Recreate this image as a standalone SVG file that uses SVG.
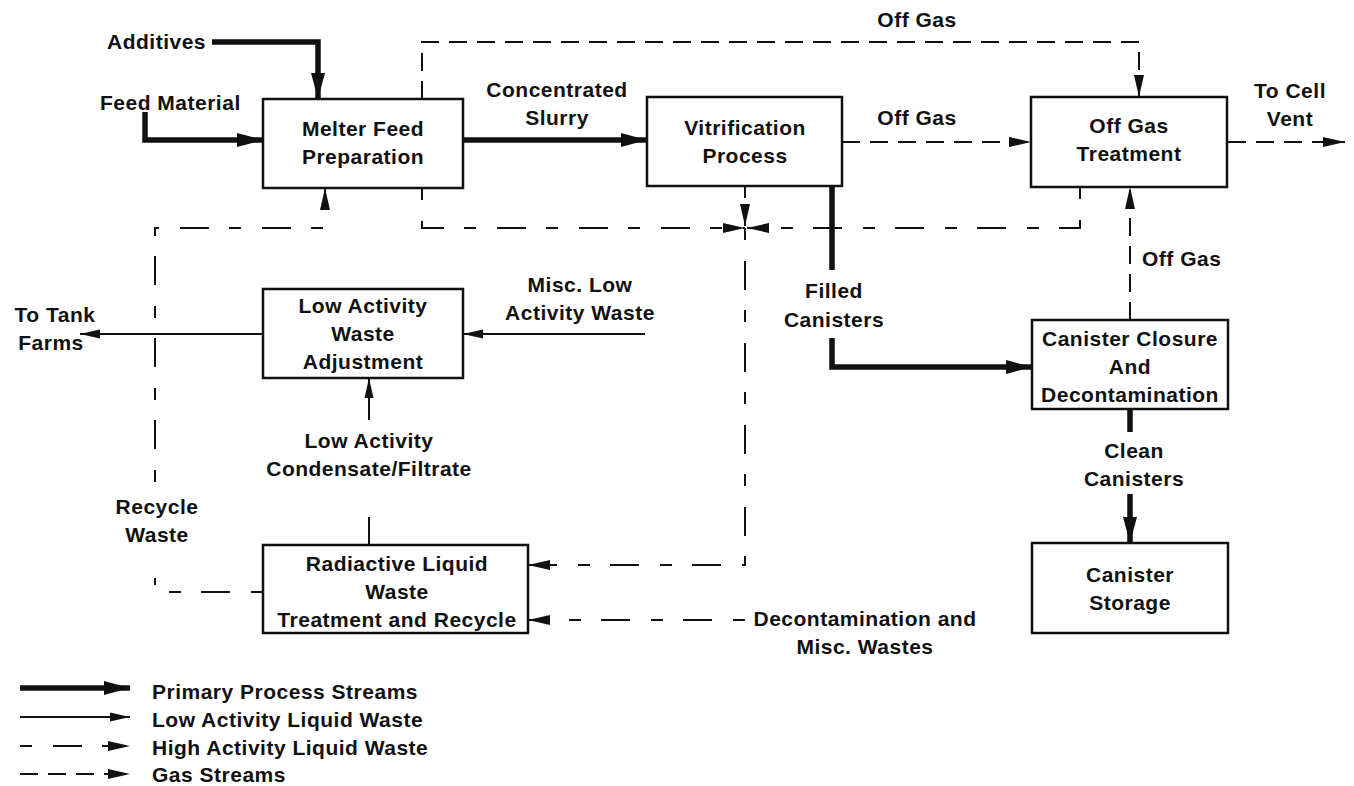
<svg xmlns="http://www.w3.org/2000/svg" width="1354" height="786" viewBox="0 0 1354 786">
<defs>
<style>
text{font-family:"Liberation Sans",Arial,Helvetica,sans-serif;font-weight:bold;font-size:21px;letter-spacing:0.5px;fill:#111}
.m{text-anchor:middle}
.box{fill:#fff;stroke:#111;stroke-width:2.5}
.pri{fill:none;stroke:#111;stroke-width:5.5}
.low{fill:none;stroke:#111;stroke-width:2}
.hal{fill:none;stroke:#111;stroke-width:2;stroke-dasharray:12 21 29 20}
.gas{fill:none;stroke:#111;stroke-width:2;stroke-dasharray:18 10}
</style>
<marker id="aP" markerUnits="userSpaceOnUse" markerWidth="26" markerHeight="16" refX="26" refY="8" orient="auto"><path d="M0,1 L26,8 L0,15 z" fill="#111"/></marker>
<marker id="aT" markerUnits="userSpaceOnUse" markerWidth="20" markerHeight="10" refX="20" refY="5" orient="auto"><path d="M0,0.5 L20,5 L0,9.5 z" fill="#111"/></marker>
<marker id="aD" markerUnits="userSpaceOnUse" markerWidth="22" markerHeight="12" refX="22" refY="6" orient="auto"><path d="M0,1 L22,6 L0,11 z" fill="#111"/></marker>
</defs>
<rect width="1354" height="786" fill="#fff"/>

<g id="connectors">
<path class="pri" d="M212,42 H318 V99" marker-end="url(#aP)"/>
<path class="pri" d="M145,112 V140 H263" marker-end="url(#aP)"/>
<path class="pri" d="M463,140 H647" marker-end="url(#aP)"/>
<path class="pri" d="M832,186 V270"/>
<path class="pri" d="M832,338 V367 H1032" marker-end="url(#aP)"/>
<path class="pri" d="M1130,409 V432"/>
<path class="pri" d="M1130,494 V543" marker-end="url(#aP)"/>

<path class="gas" d="M842,142 H1031" marker-end="url(#aD)"/>
<path class="gas" d="M422,99 V42 H1139 V97" marker-end="url(#aD)"/>
<path class="gas" d="M1228,142 H1345" marker-end="url(#aD)"/>
<path class="gas" d="M1130,320 V187" marker-end="url(#aD)"/>

<path class="hal" d="M422,188 V228 H745" marker-end="url(#aD)"/>
<path class="hal" d="M1080,187 V228 H747" marker-end="url(#aD)"/>
<path class="hal" d="M745,186 V226" marker-end="url(#aD)"/>
<path class="hal" d="M745,228 V565 H528" marker-end="url(#aD)"/>
<path class="hal" d="M745,620 H528" marker-end="url(#aD)"/>
<path class="hal" d="M263,592 H155 V578"/>
<path class="hal" d="M155,482 V228 H325 V188" marker-end="url(#aD)"/>

<path class="low" d="M645,334 H463" marker-end="url(#aT)"/>
<path class="low" d="M263,334 H80" marker-end="url(#aT)"/>
<path class="low" d="M369,545 V517"/>
<path class="low" d="M369,420 V378" marker-end="url(#aT)"/>
</g>

<g id="melter-feed">
<rect class="box" x="263" y="99" width="200" height="89"/>
<text class="m" x="363" y="136">Melter Feed</text>
<text class="m" x="363" y="164">Preparation</text>
</g>
<g id="vitrification">
<rect class="box" x="647" y="97" width="195" height="89"/>
<text class="m" x="745" y="135">Vitrification</text>
<text class="m" x="745" y="163">Process</text>
</g>
<g id="off-gas-treatment">
<rect class="box" x="1031" y="97" width="196" height="90"/>
<text class="m" x="1129" y="133">Off Gas</text>
<text class="m" x="1129" y="161">Treatment</text>
</g>
<g id="law-adjustment">
<rect class="box" x="263" y="289" width="200" height="89"/>
<text class="m" x="363" y="313">Low Activity</text>
<text class="m" x="363" y="341">Waste</text>
<text class="m" x="363" y="369">Adjustment</text>
</g>
<g id="canister-closure">
<rect class="box" x="1032" y="320" width="196" height="89"/>
<text class="m" x="1130" y="346">Canister Closure</text>
<text class="m" x="1130" y="374">And</text>
<text class="m" x="1130" y="402">Decontamination</text>
</g>
<g id="radioactive-liquid">
<rect class="box" x="263" y="545" width="265" height="88"/>
<text class="m" x="397" y="571">Radiactive Liquid</text>
<text class="m" x="397" y="599">Waste</text>
<text class="m" x="397" y="627">Treatment and Recycle</text>
</g>
<g id="canister-storage">
<rect class="box" x="1032" y="543" width="196" height="90"/>
<text class="m" x="1130" y="582">Canister</text>
<text class="m" x="1130" y="610">Storage</text>
</g>

<g id="labels">
<text x="107" y="49">Additives</text>
<text x="100" y="110">Feed Material</text>
<text class="m" x="557" y="97">Concentrated</text>
<text class="m" x="557" y="125">Slurry</text>
<text class="m" x="917" y="27">Off Gas</text>
<text class="m" x="917" y="125">Off Gas</text>
<text class="m" x="1290" y="98">To Cell</text>
<text class="m" x="1290" y="126">Vent</text>
<text class="m" x="834" y="298">Filled</text>
<text class="m" x="834" y="327">Canisters</text>
<text x="1142" y="266">Off Gas</text>
<text class="m" x="1134" y="458">Clean</text>
<text class="m" x="1134" y="486">Canisters</text>
<text class="m" x="580" y="292">Misc. Low</text>
<text class="m" x="580" y="320">Activity Waste</text>
<text class="m" x="55" y="322">To Tank</text>
<text class="m" x="51" y="350">Farms</text>
<text class="m" x="369" y="448">Low Activity</text>
<text class="m" x="369" y="476">Condensate/Filtrate</text>
<text class="m" x="157" y="514">Recycle</text>
<text class="m" x="157" y="542">Waste</text>
<text class="m" x="865" y="626">Decontamination and</text>
<text class="m" x="865" y="654">Misc. Wastes</text>
</g>

<g id="legend">
<path class="pri" d="M20,688 H130" marker-end="url(#aP)"/>
<path class="low" d="M20,717 H130" marker-end="url(#aT)"/>
<path class="hal" d="M20,746 H130" marker-end="url(#aD)"/>
<path class="gas" d="M20,774 H130" marker-end="url(#aD)"/>
<text x="152" y="699">Primary Process Streams</text>
<text x="152" y="727">Low Activity Liquid Waste</text>
<text x="152" y="755">High Activity Liquid Waste</text>
<text x="152" y="782">Gas Streams</text>
</g>
</svg>
